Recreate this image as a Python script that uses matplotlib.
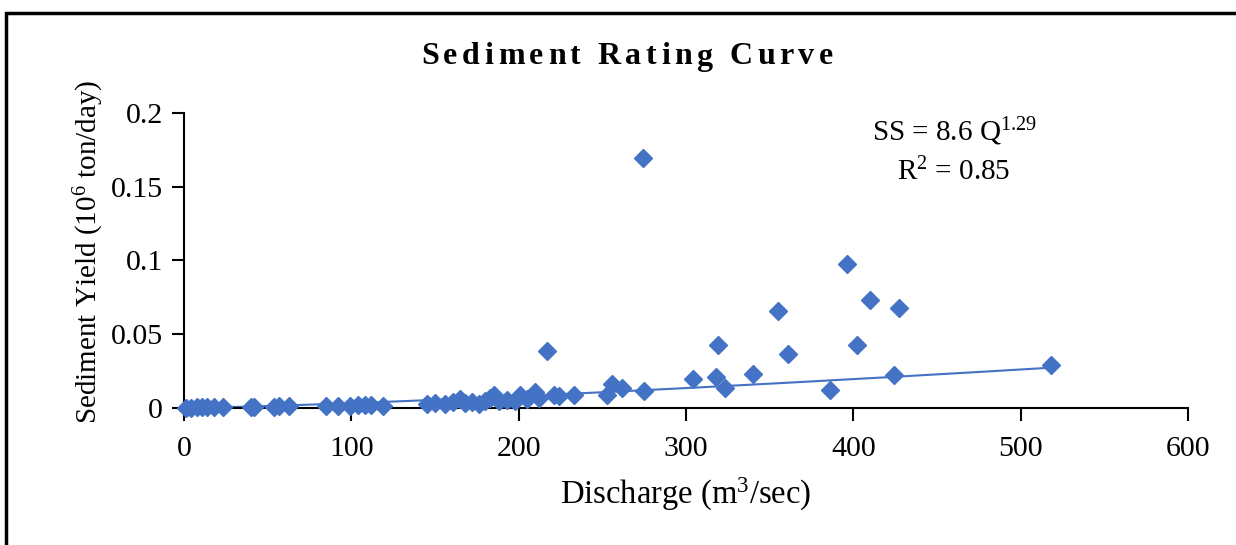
import matplotlib.pyplot as plt
import numpy as np
from matplotlib.patches import Rectangle
from matplotlib.font_manager import FontProperties

# discharge (m3/sec) and sediment yield (10^6 ton/day)
discharge = [1, 4, 8, 11, 14, 18, 23,
             40, 42, 54, 57, 63,
             85, 92, 99, 104, 108, 112, 119,
             145, 150, 156, 161, 165, 168, 172, 176, 180, 183, 185, 188,
             193, 198, 201, 205, 210, 212,
             217, 221, 224, 233,
             253, 256, 262, 274, 275,
             304, 319, 318, 323, 340, 355, 361, 386, 396, 402, 410, 424,
             427, 518]
sediment = [0.0003, 0.0002, 0.0005, 0.0008, 0.0004, 0.0006, 0.0005,
            0.0008, 0.0006, 0.0010, 0.0015, 0.0012,
            0.0012, 0.0015, 0.0012, 0.0018, 0.0022, 0.0020, 0.0016,
            0.0030, 0.0035, 0.0028, 0.0040, 0.0060, 0.0035, 0.0042, 0.0030,
            0.0045, 0.0070, 0.0085, 0.0050,
            0.0055, 0.0045, 0.0085, 0.0060, 0.0110, 0.0070,
            0.0385, 0.0090, 0.0080, 0.0085,
            0.0090, 0.0160, 0.0135, 0.1690, 0.0115,
            0.0195, 0.0430, 0.0210, 0.0135, 0.0230, 0.0655, 0.0365, 0.0125,
            0.0975, 0.0425, 0.0730, 0.0225, 0.0680, 0.0290]

# power trend line shown on the chart: SS = 8.6 Q^1.29 (ton/day)
coef, expo = 8.6, 1.29

xticks = [0, 100, 200, 300, 400, 500, 600]
yticks = [0, 0.05, 0.1, 0.15, 0.2]
ytick_labels = ['0', '0.05', '0.1', '0.15', '0.2']
title = 'Sediment Rating Curve'

plt.rcParams['font.family'] = ['Liberation Serif', 'DejaVu Serif']
plt.rcParams['mathtext.fontset'] = 'custom'
plt.rcParams['mathtext.rm'] = 'Liberation Serif'
plt.rcParams['mathtext.it'] = 'Liberation Serif:italic'
plt.rcParams['mathtext.bf'] = 'Liberation Serif:bold'

blue = '#4472C4'
W, H = 1236, 545

fig = plt.figure(figsize=(12.36, 5.45), dpi=100)
ax = fig.add_axes([0.1489, 0.2514, 0.8123, 0.5418])

ax.plot(discharge, sediment, linestyle='none', marker='D', ms=9,
        color=blue, mec=blue, zorder=3, clip_on=False)

q = np.linspace(min(discharge), max(discharge), 200)
ax.plot(q, coef * q ** expo / 1e6, color=blue, lw=1.5, zorder=2)

ax.set_xlim(0, 600)
ax.set_ylim(0, 0.2)
ax.set_xticks(xticks)
ax.set_yticks(yticks)
ax.set_yticklabels(ytick_labels)
ax.tick_params(axis='both', labelsize=21.5, direction='out', length=9,
               width=1.5, color='black')
ax.tick_params(axis='x', pad=11)
ax.tick_params(axis='y', pad=6)
for side in ['top', 'right']:
    ax.spines[side].set_visible(False)
for side in ['left', 'bottom']:
    ax.spines[side].set_linewidth(1.5)

ax.set_xlabel('Discharge (m$^{3}$/sec)', fontsize=23.5, labelpad=10)
ax.set_ylabel('Sediment Yield (10$^{6}$ ton/day)', fontsize=21)
ax.yaxis.set_label_coords(-0.0775, 0.528)

ax.text(0.767, 0.935, 'SS = 8.6 Q$^{1.29}$', transform=ax.transAxes,
        fontsize=21, ha='center', va='center')
ax.text(0.767, 0.80, 'R$^{2}$ = 0.85', transform=ax.transAxes,
        fontsize=21, ha='center', va='center')

# letter-spaced bold title, drawn char by char
tprop = FontProperties(family='Liberation Serif', weight='bold', size=23)
renderer = fig.canvas.get_renderer()


def text_w(s):
    w, _, _ = renderer.get_text_width_height_descent(s, tprop, ismath=False)
    return w


gap = 4.5
bar_w = text_w('|')
offsets = [text_w(title[:i] + '|') - bar_w if i else 0.0
           for i in range(len(title))]
total = text_w(title) + gap * (len(title) - 1)
x0 = 627 - total / 2
for i, ch in enumerate(title):
    if ch == ' ':
        continue
    fig.text((x0 + offsets[i] + gap * i) / W, 1 - 57 / H, ch,
             fontproperties=tprop, ha='left', va='center')

# outer chart border (only top and left edges are visible in the crop)
fig.patches.append(Rectangle((6 / W, -0.2), 1.2, 1.2 - 13 / H,
                             transform=fig.transFigure, fill=False,
                             edgecolor='black', lw=2.5))

fig.savefig('out.png', dpi=100)
